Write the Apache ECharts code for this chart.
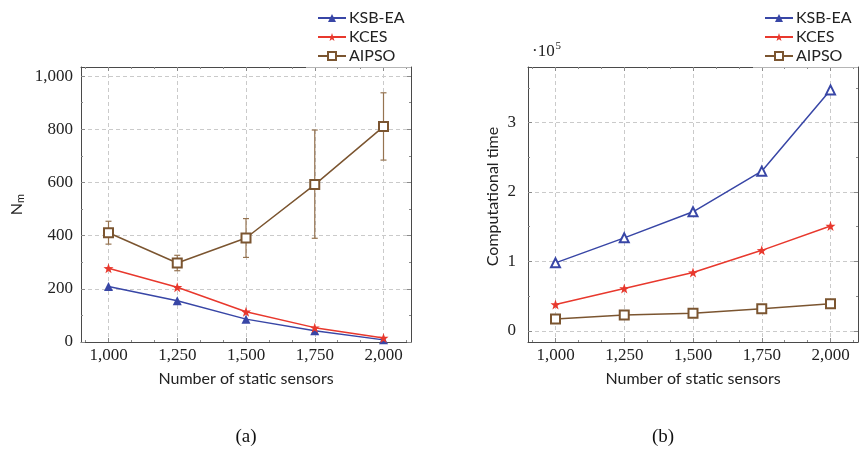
<!DOCTYPE html>
<html>
<head>
<meta charset="utf-8">
<script src="https://cdn.jsdelivr.net/npm/echarts@6/dist/echarts.min.js"></script>
<style>
  html, body { margin: 0; padding: 0; background: #fff; }
  #chart { width: 860px; height: 452px; }
</style>
</head>
<body>
<div id="chart"></div>
<script>
// x values (number of static sensors)
const sensors = [1000, 1250, 1500, 1750, 2000];

// (a) N_m
const nmKsb = [209, 155, 86, 42, 8];
const nmKces = [277, 206, 114, 54, 15];
const nmAipso = [411, 297, 391, 592, 810];
const nmAipsoLow = [368, 268, 318, 390, 684];
const nmAipsoHigh = [454, 326, 464, 797, 937];

// (b) computational time, in units of 10^5
const ctKsb = [0.98, 1.34, 1.715, 2.30, 3.47];
const ctKces = [0.38, 0.61, 0.84, 1.16, 1.51];
const ctAipso = [0.17, 0.23, 0.255, 0.32, 0.39];

// tick positions
const xTicks = [1000, 1250, 1500, 1750, 2000];
const nmTicks = [0, 200, 400, 600, 800, 1000];
const ctTicks = [0, 1, 2, 3];
const legendNames = ['KSB-EA', 'KCES', 'AIPSO'];

const SERIF = '"Liberation Serif", "DejaVu Serif", serif';
const SANS = 'Lato, "Noto Sans", sans-serif';
const BLUE = '#3846a6', RED = '#e8382d', BROWN = '#7b5530', ERR = '#957350';
const FRAME = '#4a4a4a', TICK = '#8a8a8a', GRIDC = '#cacaca';
const STAR = 'path://M0,-10 L2.35,-3.24 9.51,-3.09 3.8,1.24 5.88,8.09 0,4 -5.88,8.09 -3.8,1.24 -9.51,-3.09 -2.35,-3.24Z';

// minor ticks between majors (n subdivisions), plus one step beyond each end
function minorsOf(majors, n, min, max) {
  const step = (majors[1] - majors[0]) / n;
  const out = [];
  for (let v = majors[0] - step * n; v <= majors[majors.length - 1] + step * n; v += step) {
    const r = Math.round(v * 1000) / 1000;
    if (r > min && r < max && !majors.some(m => Math.abs(m - r) < 1e-6)) out.push(r);
  }
  return out;
}

// four-sided pgfplots-like frame: main axis + minor axis + mirror axis + mirror minor
function frameAxes(g, min, max, majors, minors, isX, label, margin) {
  const sides = isX ? ['bottom', 'top'] : ['left', 'right'];
  const base = { type: 'value', gridIndex: g, min: min, max: max, scale: true };
  const list = [];
  sides.forEach((pos, s) => {
    list.push(Object.assign({}, base, {
      position: pos,
      axisLine: { show: true, onZero: false, lineStyle: { color: FRAME, width: 1 } },
      axisTick: { show: true, inside: true, length: 4, customValues: majors, lineStyle: { color: TICK } },
      axisLabel: s === 0 ? {
        show: true, customValues: majors, margin: margin,
        color: '#222', fontFamily: SERIF, fontSize: 17, formatter: label
      } : { show: false },
      splitLine: s === 0 ? { show: true, lineStyle: { color: GRIDC, type: [4, 3], width: 1 } } : { show: false }
    }));
    list.push(Object.assign({}, base, {
      position: pos,
      axisLine: { show: false, onZero: false },
      axisTick: { show: true, inside: true, length: 2, customValues: minors, lineStyle: { color: TICK } },
      axisLabel: { show: false },
      splitLine: { show: false }
    }));
  });
  return list;
}

const thousands = v => v.toLocaleString('en-US');

const xAxes = [].concat(
  frameAxes(0, 900, 2100, xTicks, minorsOf(xTicks, 3, 900, 2100), true, thousands, 5),
  frameAxes(1, 900, 2100, xTicks, minorsOf(xTicks, 3, 900, 2100), true, thousands, 5)
);
const yAxes = [].concat(
  frameAxes(0, 0, 1034, nmTicks, minorsOf(nmTicks, 2, 0, 1034), false, thousands, 8),
  frameAxes(1, -0.16, 3.8, ctTicks, minorsOf(ctTicks, 2, -0.16, 3.8), false, v => String(v), 12)
);

// axis names on main axes
[0, 4].forEach(i => {
  Object.assign(xAxes[i], {
    name: 'Number of static sensors', nameLocation: 'middle', nameGap: 29,
    nameTextStyle: { fontFamily: SANS, fontSize: 16, color: '#222' }
  });
});
Object.assign(yAxes[0], {
  name: '{a|N}{b|m}', nameLocation: 'middle', nameGap: 55, nameRotate: 90,
  nameTextStyle: {
    color: '#222',
    rich: {
      a: { fontFamily: SANS, fontSize: 16, color: '#222' },
      b: { fontFamily: SANS, fontSize: 11, color: '#222', padding: [8, 0, 0, 0] }
    }
  }
});
Object.assign(yAxes[4], {
  name: 'Computational time', nameLocation: 'middle', nameGap: 27, nameRotate: 90,
  nameTextStyle: { fontFamily: SANS, fontSize: 16, color: '#222', padding: [0, 0, 0, 16] }
});

function lineSeries(name, g, values, color, symbol, size, extra) {
  return Object.assign({
    name: name, type: 'line', xAxisIndex: g * 4, yAxisIndex: g * 4,
    data: sensors.map((s, i) => [s, values[i]]),
    symbol: symbol, symbolSize: size,
    lineStyle: { color: color, width: 1.5 },
    itemStyle: { color: color },
    z: 3
  }, extra || {});
}

const errorSeries = {
  type: 'custom', xAxisIndex: 0, yAxisIndex: 0, z: 2,
  data: sensors.map((s, i) => [s, nmAipsoLow[i], nmAipsoHigh[i]]),
  renderItem: function (params, api) {
    const lo = api.coord([api.value(0), api.value(1)]);
    const hi = api.coord([api.value(0), api.value(2)]);
    const w = 3;
    const st = { stroke: ERR, lineWidth: 1.2 };
    return {
      type: 'group',
      children: [
        { type: 'line', shape: { x1: lo[0], y1: lo[1], x2: hi[0], y2: hi[1] }, style: st },
        { type: 'line', shape: { x1: lo[0] - w, y1: lo[1], x2: lo[0] + w, y2: lo[1] }, style: st },
        { type: 'line', shape: { x1: hi[0] - w, y1: hi[1], x2: hi[0] + w, y2: hi[1] }, style: st }
      ]
    };
  }
};

const legendStyle = {
  orient: 'vertical', data: legendNames, itemWidth: 28, itemHeight: 10, itemGap: 3,
  textStyle: { fontFamily: SANS, fontSize: 16, color: '#222', padding: [0, 0, 0, -2] }
};

const option = {
  animation: false,
  backgroundColor: '#fff',
  grid: [
    { left: 81, top: 67, width: 330, height: 275 },
    { left: 528, top: 67, width: 330, height: 275 }
  ],
  legend: [
    Object.assign({ left: 312, top: 5 }, legendStyle),
    Object.assign({ left: 759, top: 5 }, legendStyle)
  ],
  xAxis: xAxes,
  yAxis: yAxes,
  series: [
    errorSeries,
    lineSeries('KSB-EA', 0, nmKsb, BLUE, 'triangle', 9),
    lineSeries('KCES', 0, nmKces, RED, STAR, 10),
    lineSeries('AIPSO', 0, nmAipso, BROWN, 'emptyRect', 9),
    lineSeries('KSB-EA', 1, ctKsb, BLUE, 'emptyTriangle', 9),
    lineSeries('KCES', 1, ctKces, RED, STAR, 10),
    lineSeries('AIPSO', 1, ctAipso, BROWN, 'emptyRect', 9)
  ],
  graphic: [
    { type: 'line', z: 100, shape: { x1: 306, y1: 67.5, x2: 411, y2: 67.5 }, style: { stroke: '#b5b5b5', lineWidth: 1 } },
    { type: 'line', z: 100, shape: { x1: 753, y1: 67.5, x2: 858, y2: 67.5 }, style: { stroke: '#b5b5b5', lineWidth: 1 } },
    { type: 'text', x: 532, y: 52, style: { text: '·10', font: '17px ' + SERIF, fill: '#222', verticalAlign: 'middle' } },
    { type: 'text', x: 555.5, y: 46, style: { text: '5', font: '11px ' + SERIF, fill: '#222', verticalAlign: 'middle' } },
    { type: 'text', x: 246, y: 437, style: { text: '(a)', font: '19px ' + SERIF, fill: '#111', align: 'center', verticalAlign: 'middle' } },
    { type: 'text', x: 663, y: 437, style: { text: '(b)', font: '19px ' + SERIF, fill: '#111', align: 'center', verticalAlign: 'middle' } }
  ]
};

const chart = echarts.init(document.getElementById('chart'), null, { renderer: 'canvas' });
chart.setOption(option);
window.addEventListener('resize', () => chart.resize());
</script>
</body>
</html>
